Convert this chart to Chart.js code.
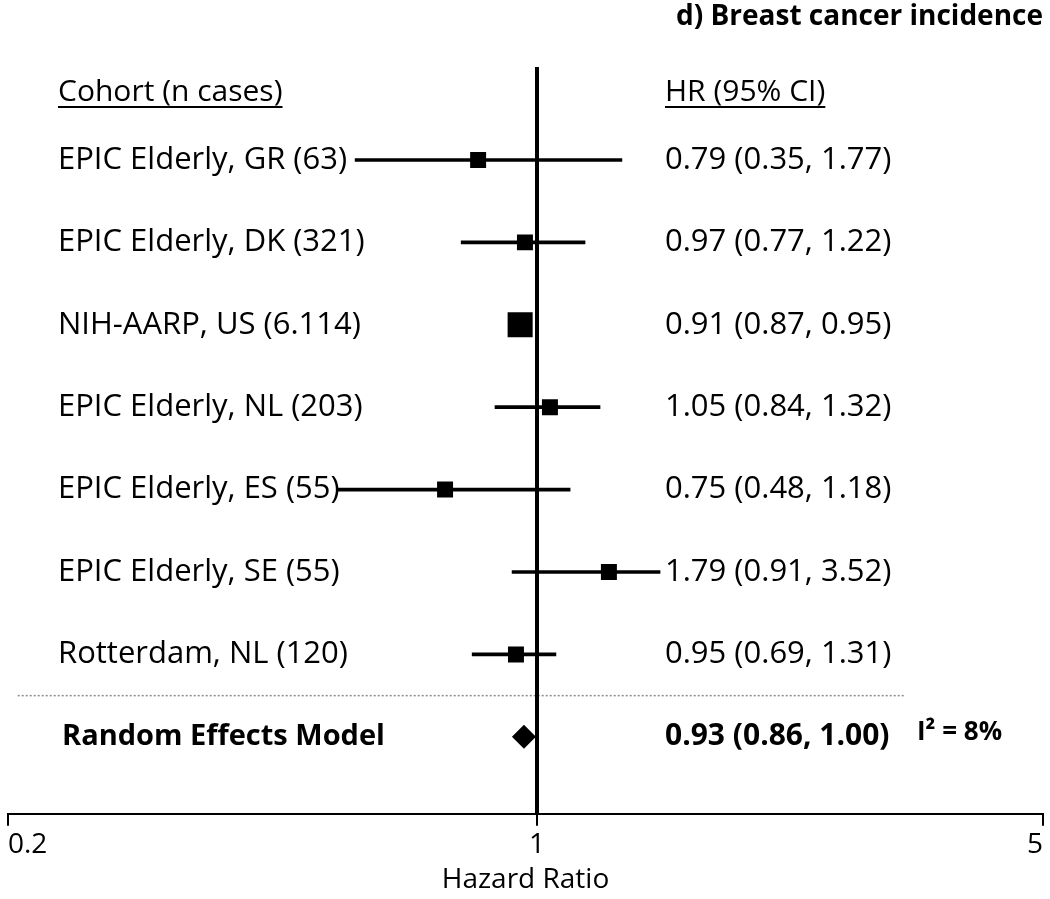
<!DOCTYPE html>
<html>
<head>
<meta charset="utf-8">
<script src="https://cdn.jsdelivr.net/npm/chart.js@4.4.1/dist/chart.umd.min.js"></script>
<style>
  html, body { margin: 0; padding: 0; background: #fff; }
  canvas { display: block; }
</style>
</head>
<body>
<canvas id="c" width="1050" height="899"></canvas>
<script>
// ---------------- data ----------------
const cohorts = [
  'EPIC Elderly, GR (63)',
  'EPIC Elderly, DK (321)',
  'NIH-AARP, US (6.114)',
  'EPIC Elderly, NL (203)',
  'EPIC Elderly, ES (55)',
  'EPIC Elderly, SE (55)',
  'Rotterdam, NL (120)'
];
const hrLabels = [
  '0.79 (0.35, 1.77)',
  '0.97 (0.77, 1.22)',
  '0.91 (0.87, 0.95)',
  '1.05 (0.84, 1.32)',
  '0.75 (0.48, 1.18)',
  '1.79 (0.91, 3.52)',
  '0.95 (0.69, 1.31)'
];
// positions of the drawn marks (hazard ratio units)
const hrPoint = [0.836, 0.964, 0.950, 1.042, 0.756, 1.257, 0.938];
const ciLow   = [0.575, 0.794, 0.927, 0.880, 0.544, 0.927, 0.821];
const ciHigh  = [1.310, 1.165, 0.973, 1.222, 1.111, 1.479, 1.062];

const summaryLabel = 'Random Effects Model';
const summaryText = '0.93 (0.86, 1.00)';
const summaryPoint = 0.961;
const heterogeneity = 'I\u00B2 = 8%';

const xTicks = [0.2, 1, 5];
const headerLeft = 'Cohort (n cases)';
const headerRight = 'HR (95% CI)';
const chartTitle = 'd) Breast cancer incidence';
const axisTitle = 'Hazard Ratio';

// ---------------- styling / layout constants ----------------
const markerRadius = [11.3, 11.3, 17.7, 11.3, 11.3, 11.3, 11.3];
const oneAt = 529 / 1035;          // decimal position of HR = 1 on the axis
const yMin = -1.128, yMax = 7.934; // row-index range of the plot area
const headerRow = -0.825;
const separatorRow = 6.5;
const separatorFrom = 0.206, separatorTo = 3.23;
const summaryRow = cohorts.length;

// Piecewise logarithmic scale (0.2..1 and 1..5 get their own spans, as in the original)
class ForestLogScale extends Chart.LogarithmicScale {
  getPixelForValue(value) {
    if (value === null || value === undefined || isNaN(value) || value <= 0) return NaN;
    const lmin = Math.log(this.min), lmax = Math.log(this.max), lv = Math.log(value);
    const s = this.options.splitAt;
    const dec = lv <= 0 ? s * (lv - lmin) / (0 - lmin) : s + (1 - s) * lv / lmax;
    return this.getPixelForDecimal(dec);
  }
  getValueForPixel(pixel) {
    const dec = this.getDecimalForPixel(pixel);
    const s = this.options.splitAt;
    const lmin = Math.log(this.min), lmax = Math.log(this.max);
    const lv = dec <= s ? lmin + (dec / s) * (0 - lmin) : (dec - s) / (1 - s) * lmax;
    return Math.exp(lv);
  }
}
ForestLogScale.id = 'forestlog';
Chart.register(ForestLogScale);

const FONT = '"Open Sans", "Noto Sans", sans-serif';
Chart.defaults.font.family = FONT;
Chart.defaults.color = '#000';

const textPlugin = {
  id: 'forestText',
  afterDatasetsDraw(chart) {
    const ctx = chart.ctx;
    const y = chart.scales.y;
    ctx.save();
    ctx.fillStyle = '#000';
    ctx.strokeStyle = '#000';
    ctx.textBaseline = 'middle';
    ctx.textAlign = 'left';

    const underlined = (txt, x, yy) => {
      ctx.fillText(txt, x, yy);
      const w = ctx.measureText(txt).width;
      ctx.lineWidth = 2;
      ctx.beginPath();
      ctx.moveTo(x, yy + 15);
      ctx.lineTo(x + w, yy + 15);
      ctx.stroke();
    };

    ctx.font = '30px ' + FONT;
    const hy = y.getPixelForValue(headerRow);
    underlined(headerLeft, 58, hy);
    underlined(headerRight, 665, hy);

    ctx.font = '31px ' + FONT;
    cohorts.forEach((c, i) => {
      const py = y.getPixelForValue(i);
      ctx.fillText(c, 58, py);
      ctx.fillText(hrLabels[i], 665, py);
    });

    const sy = y.getPixelForValue(summaryRow);
    ctx.font = 'bold 29px ' + FONT;
    ctx.fillText(summaryLabel, 62, sy);
    ctx.font = 'bold 30px ' + FONT;
    ctx.fillText(summaryText, 665, sy);
    ctx.font = 'bold 26px ' + FONT;
    ctx.fillText(heterogeneity, 917, sy - 4);
    ctx.restore();
  }
};

const rows = cohorts.map((_, i) => i);

new Chart(document.getElementById('c'), {
  type: 'bar',
  data: {
    datasets: [
      {
        type: 'scatter',
        label: 'HR',
        data: rows.map(i => ({ x: hrPoint[i], y: i })),
        pointStyle: 'rect',
        pointRadius: markerRadius,
        backgroundColor: '#000',
        borderColor: '#000',
        borderWidth: 0,
        order: 0
      },
      {
        type: 'scatter',
        label: 'Pooled',
        data: [{ x: summaryPoint, y: summaryRow }],
        pointStyle: 'rectRot',
        pointRadius: 12,
        backgroundColor: '#000',
        borderColor: '#000',
        borderWidth: 0,
        order: 0
      },
      {
        type: 'line',
        label: 'No effect',
        data: [{ x: 1, y: yMin }, { x: 1, y: yMax }],
        borderColor: '#000',
        borderWidth: 4,
        pointRadius: 0,
        order: 1
      },
      {
        type: 'bar',
        label: '95% CI',
        indexAxis: 'y',
        data: rows.map(i => ({ x: [ciLow[i], ciHigh[i]], y: i })),
        backgroundColor: '#000',
        borderWidth: 0,
        barThickness: 3,
        order: 2
      },
      {
        type: 'line',
        label: 'separator',
        data: [{ x: separatorFrom, y: separatorRow }, { x: separatorTo, y: separatorRow }],
        borderColor: '#8a8a8a',
        borderWidth: 1.5,
        borderDash: [2, 2],
        pointRadius: 0,
        order: 3
      }
    ]
  },
  options: {
    responsive: false,
    animation: false,
    devicePixelRatio: 1,
    layout: { autoPadding: false, padding: { left: 8, right: 7, top: 0, bottom: 2 } },
    plugins: {
      legend: { display: false },
      tooltip: { enabled: false },
      title: {
        display: true,
        text: chartTitle,
        align: 'end',
        color: '#000',
        font: { family: FONT, size: 28, weight: 'bold', lineHeight: 1.2 },
        padding: { top: 0, bottom: 33.4 }
      }
    },
    scales: {
      x: {
        type: 'forestlog',
        splitAt: oneAt,
        min: 0.2,
        max: 5,
        offset: false,
        position: 'bottom',
        afterBuildTicks: (scale) => { scale.ticks = xTicks.map(v => ({ value: v })); },
        afterFit: (scale) => { scale.paddingLeft = 0; scale.paddingRight = 0; },
        ticks: {
          callback: (v) => String(v),
          align: 'inner',
          padding: 2,
          color: '#000',
          font: { family: FONT, size: 28, lineHeight: 1.2 },
          maxRotation: 0,
          autoSkip: false
        },
        grid: {
          display: true,
          offset: false,
          drawOnChartArea: false,
          drawTicks: true,
          tickLength: 12,
          color: '#000',
          lineWidth: 2
        },
        border: { display: true, color: '#000', width: 2 },
        title: {
          display: true,
          text: axisTitle,
          color: '#000',
          font: { family: FONT, size: 28, lineHeight: 1.2 },
          padding: { top: 0, bottom: 0 }
        }
      },
      y: {
        type: 'linear',
        display: false,
        offset: false,
        grid: { offset: false },
        reverse: true,
        min: yMin,
        max: yMax
      }
    }
  },
  plugins: [textPlugin]
});
</script>
</body>
</html>
